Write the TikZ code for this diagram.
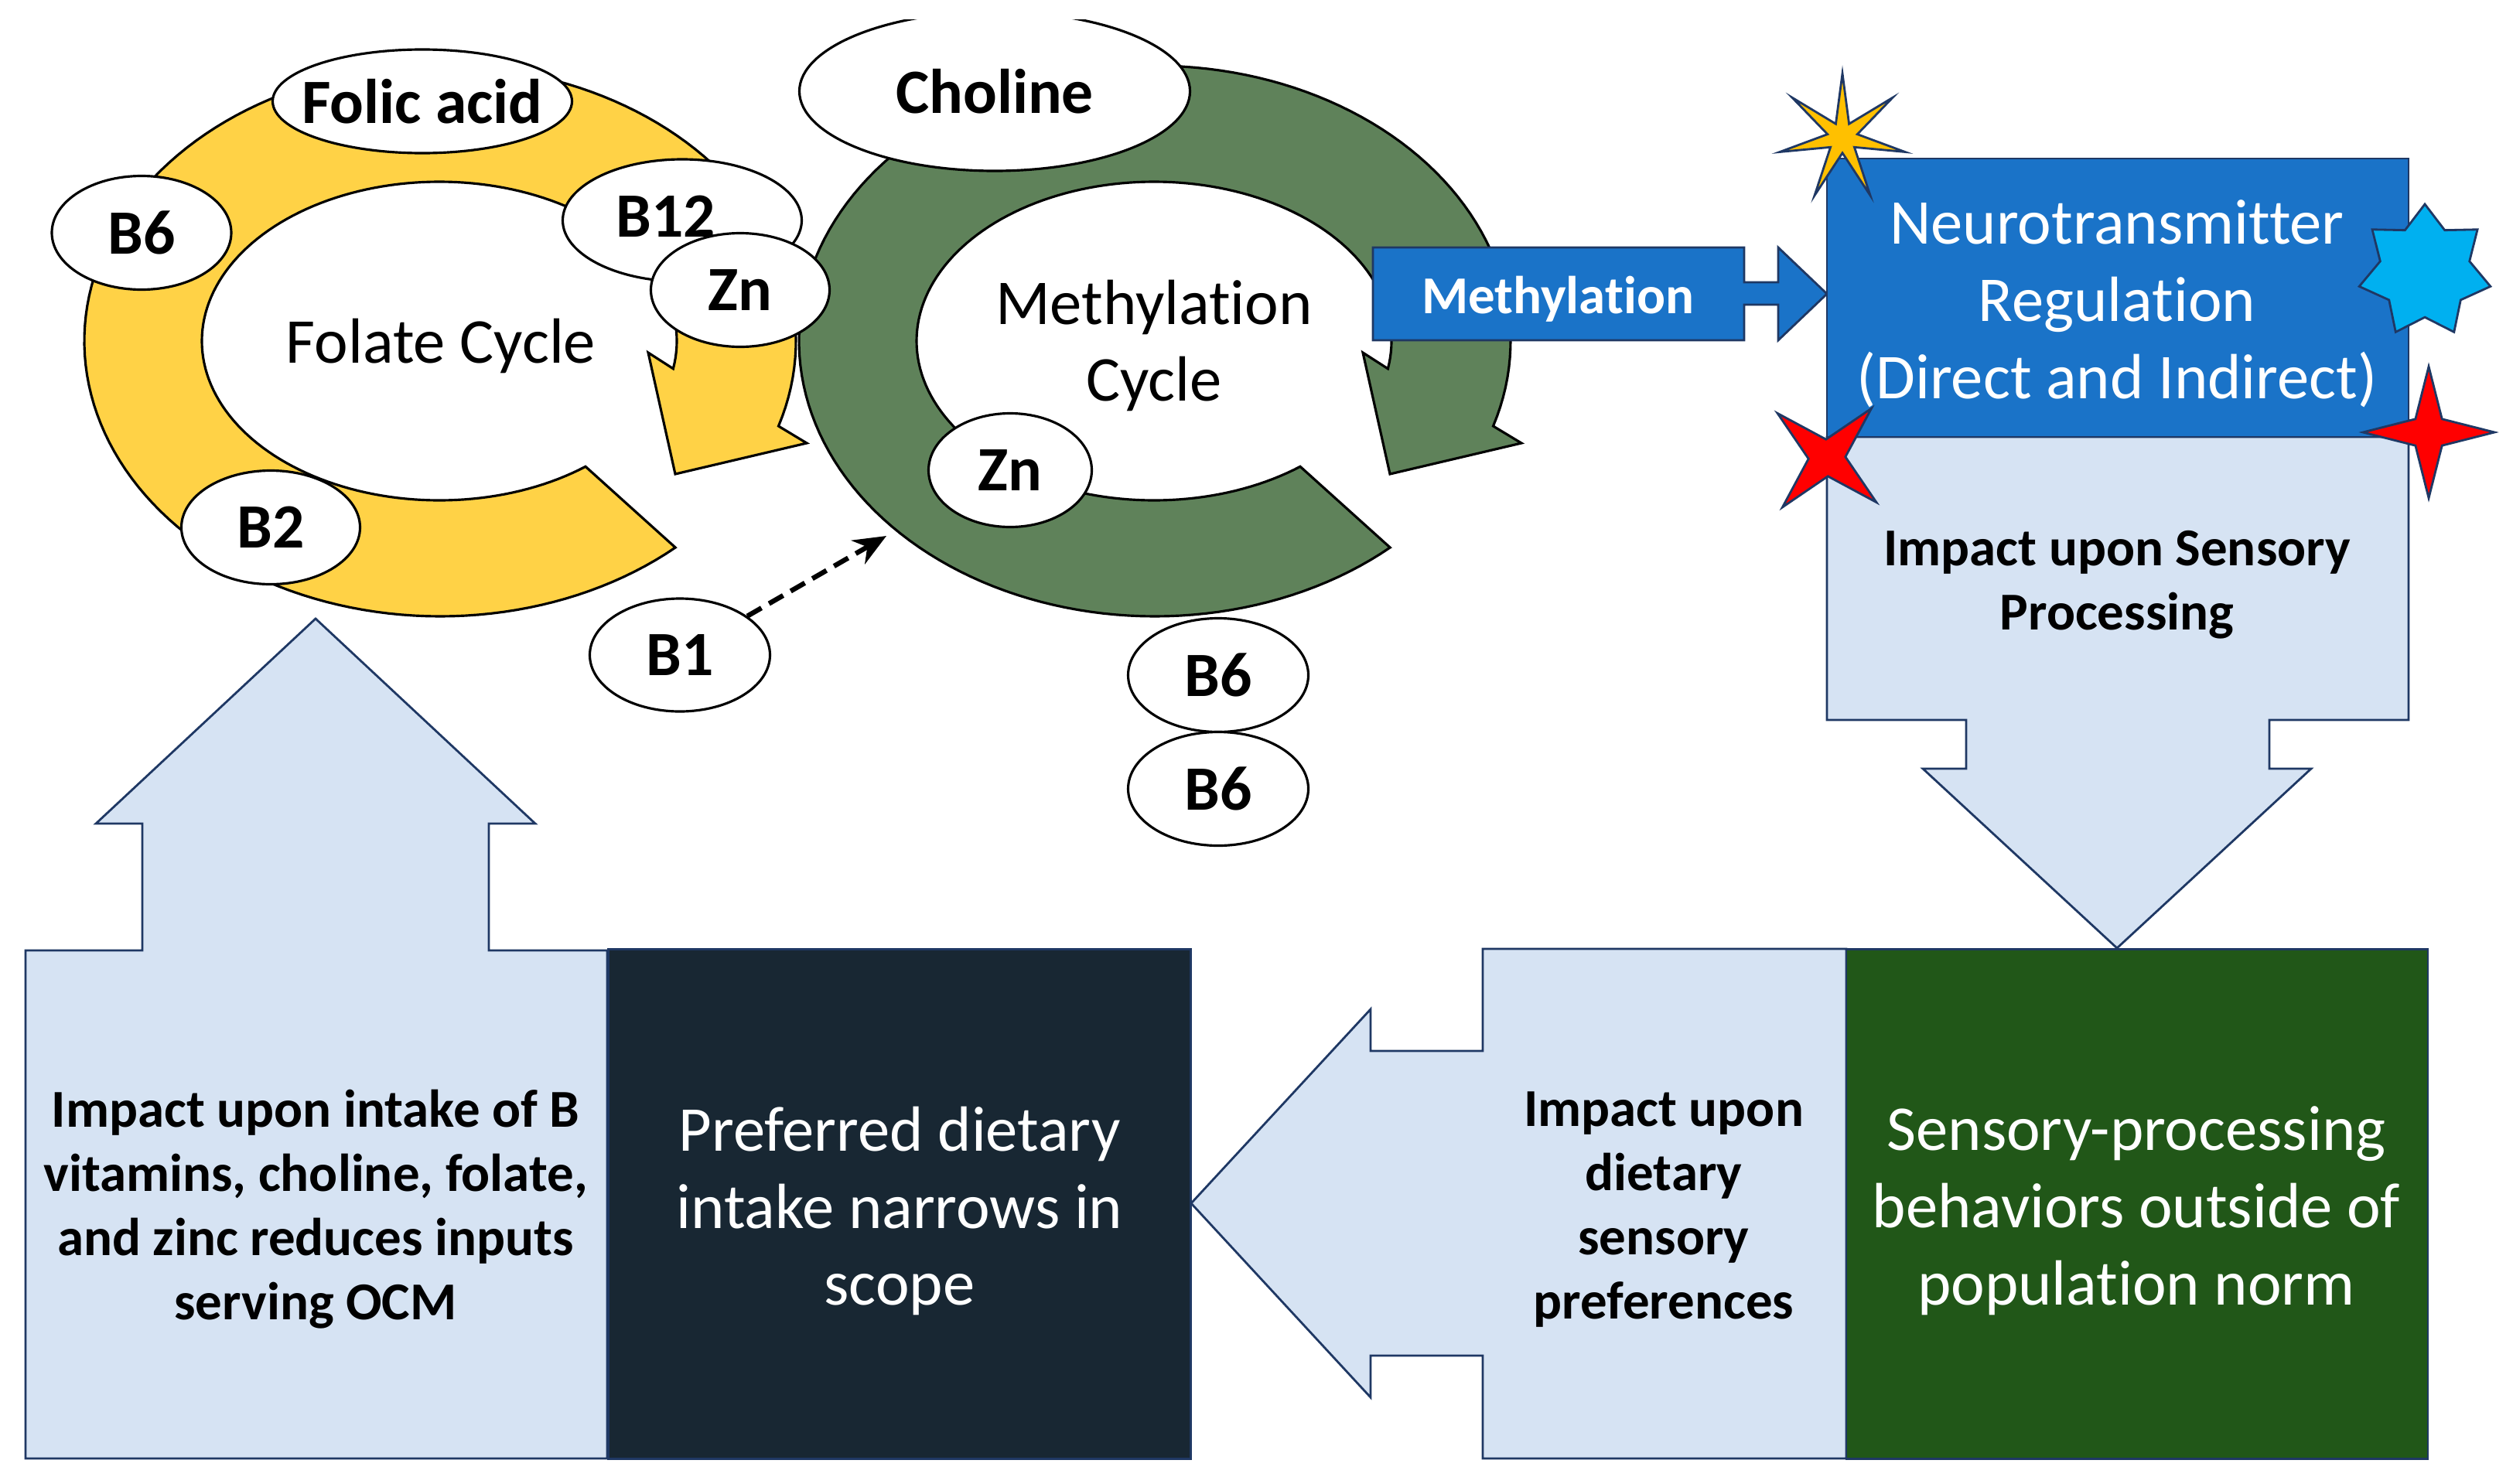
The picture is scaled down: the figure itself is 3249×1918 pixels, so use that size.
\documentclass[tikz,border=0pt]{standalone}
\usepackage{fontspec}
\setmainfont[Ligatures=NoCommon]{Carlito}
\usetikzlibrary{arrows.meta, shapes.geometric}
\definecolor{edgeblue}{HTML}{1F3864}
\definecolor{paleblue}{HTML}{D6E3F3}
\definecolor{midblue}{HTML}{1A73C8}
\definecolor{folateyellow}{HTML}{FFD246}
\definecolor{methgreen}{HTML}{5F825A}
\definecolor{darknavy}{HTML}{182733}
\definecolor{darkgreen}{HTML}{215718}
\definecolor{stargold}{HTML}{FFC000}
\definecolor{starblue}{HTML}{00B0F0}
% cycle ring with arrow head; #1 = x shift, #2 = fill
\newcommand{\cyclering}[2]{
  \begin{scope}[shift={(#1,0)}]
    \draw [ring, fill=#2]
      plot [domain=10:-308, samples=160, variable=\t] ({568+307*cos(\t)},{441+206*sin(\t)})
      -- plot [domain=48.6:378, samples=160, variable=\t] ({569+460*cos(\t)},{441+356*sin(\t)})
      -- (1043,573) -- (873,613) -- (838,456) -- cycle;
  \end{scope}
}
\begin{document}
\begin{tikzpicture}[
  x=0.01cm, y=-0.01cm,
  ring/.style={draw=black, line width=0.9pt},
  pill/.style={ellipse, draw=black, fill=white, line width=0.9pt, inner sep=-20pt,
    font=\fontsize{23.2}{28}\selectfont\bfseries},
  panel/.style={draw=edgeblue, line width=0.8pt},
  bigtext/.style={align=center, inner sep=0pt, font=\fontsize{23.5}{28.4}\selectfont},
  boldtext/.style={align=center, inner sep=0pt, font=\fontsize{19.6}{23.6}\selectfont\bfseries},
  burst/.style={star, draw=edgeblue, line width=0.8pt, inner sep=0pt},
  ]
  \useasboundingbox (0,0) rectangle (3249,1918);

  % the two cycles
  \cyclering{0}{folateyellow}
  \cyclering{924}{methgreen}

  \node [bigtext] (folate) at (570,447) {Folate Cycle};
  \node [bigtext] (methcycle) at (1492,447) {Methylation\\Cycle};

  % vitamins
  \node (folic) [pill, minimum width=387*0.01cm, minimum height=134*0.01cm] at (546,131) {Folic acid};
  \node (b6a) [pill, minimum width=232*0.01cm, minimum height=147*0.01cm] at (183,301) {B6};
  \node (b2) [pill, minimum width=231*0.01cm, minimum height=147*0.01cm] at (350,682) {B2};
  \node (b12) [pill, minimum width=309*0.01cm, minimum height=158*0.01cm] at (882,285) {\raisebox{3pt}{\hspace{-12pt}B12}};
  \node (zna) [pill, minimum width=231*0.01cm, minimum height=147*0.01cm] at (957,375) {Zn};
  \node (b1) [pill, minimum width=233*0.01cm, minimum height=146*0.01cm] at (879,847) {B1};
  \node (choline) [pill, minimum width=505*0.01cm, minimum height=206*0.01cm] at (1286,118) {Choline};
  \node (znb) [pill, minimum width=211*0.01cm, minimum height=147*0.01cm] at (1306,608) {Zn};
  \node (b6b) [pill, minimum width=233*0.01cm, minimum height=147*0.01cm] at (1575,873) {B6};
  \node (b6c) [pill, minimum width=233*0.01cm, minimum height=147*0.01cm] at (1575,1020) {B6};

  % the picture is cut off above the choline ellipse
  \fill [white] (0,0) rectangle (3249,25);

  \coordinate (b1tip) at (1146,693);
  \draw [-{Stealth[length=12pt, width=10pt]}, line width=1.8pt, dash pattern=on 6pt off 3.2pt] (b1) -- (b1tip);

  % methylation arrow
  \draw [panel, fill=midblue] (1775,320) -- (2255,320) -- (2255,365) -- (2299,365) -- (2299,320)
    -- (2362,380) -- (2299,440) -- (2299,394) -- (2255,394) -- (2255,440) -- (1775,440) -- cycle;
  \node [boldtext, text=white] (methlabel) at (2014,387) {Methylation};

  % right column
  \draw [panel, fill=paleblue] (2362,565) -- (3114,565) -- (3114,931) -- (2934,931) -- (2934,994) -- (2988,994)
    -- (2737,1226) -- (2486,994) -- (2542,994) -- (2542,931) -- (2362,931) -- cycle;
  \node [boldtext] (sensoryimpact) at (2737,756) {Impact upon Sensory\\Processing};
  \node (neurobox) [panel, fill=midblue, minimum width=752*0.01cm, minimum height=360*0.01cm] at (2738,385) {};
  \node [bigtext, text=white] (neuro) at (2737,393) {Neurotransmitter\\Regulation\\(Direct and Indirect)};

  % bursts on the corners
  \node (sgold) [burst, fill=stargold, star points=7, star point ratio=4.2, minimum size=166*0.01cm] at (2382,178) {};
  \node (sblue) [burst, fill=starblue, star points=7, star point ratio=1.47, minimum size=174*0.01cm] at (3135,351) {};
  \node (sredl) [burst, fill=red, star points=4, star point ratio=3.6, minimum size=172*0.01cm, rotate=-42] at (2362,592) {};
  \node (sredr) [burst, fill=red, star points=4, star point ratio=3.5, minimum size=170*0.01cm] at (3140,559) {};

  % bottom row
  \draw [panel, fill=paleblue] (33,1229) -- (184,1229) -- (184,1065) -- (124,1065) -- (408,800) -- (692,1065)
    -- (632,1065) -- (632,1229) -- (785,1229) -- (785,1886) -- (33,1886) -- cycle;
  \node [boldtext] (intake) at (408,1564) {Impact upon intake of B\\vitamins, choline, folate,\\and zinc reduces inputs\\serving OCM};
  \node (narrowbox) [panel, fill=darknavy, minimum width=753*0.01cm, minimum height=659*0.01cm] at (1163,1557) {};
  \node [bigtext, text=white] (narrow) at (1163,1566) {Preferred dietary\\intake narrows in\\scope};
  \draw [panel, fill=paleblue] (2387,1227) -- (1917,1227) -- (1917,1359) -- (1772,1359) -- (1772,1305)
    -- (1540,1556) -- (1772,1807) -- (1772,1753) -- (1917,1753) -- (1917,1886) -- (2387,1886) -- cycle;
  \node [boldtext] (dietary) at (2151,1564) {Impact upon\\dietary\\sensory\\preferences};
  \node (outsidebox) [panel, fill=darkgreen, minimum width=752*0.01cm, minimum height=659*0.01cm] at (2763,1557) {};
  \node [bigtext, text=white] (outside) at (2762,1566) {Sensory-processing\\behaviors outside of\\population norm};
\end{tikzpicture}
\end{document}
